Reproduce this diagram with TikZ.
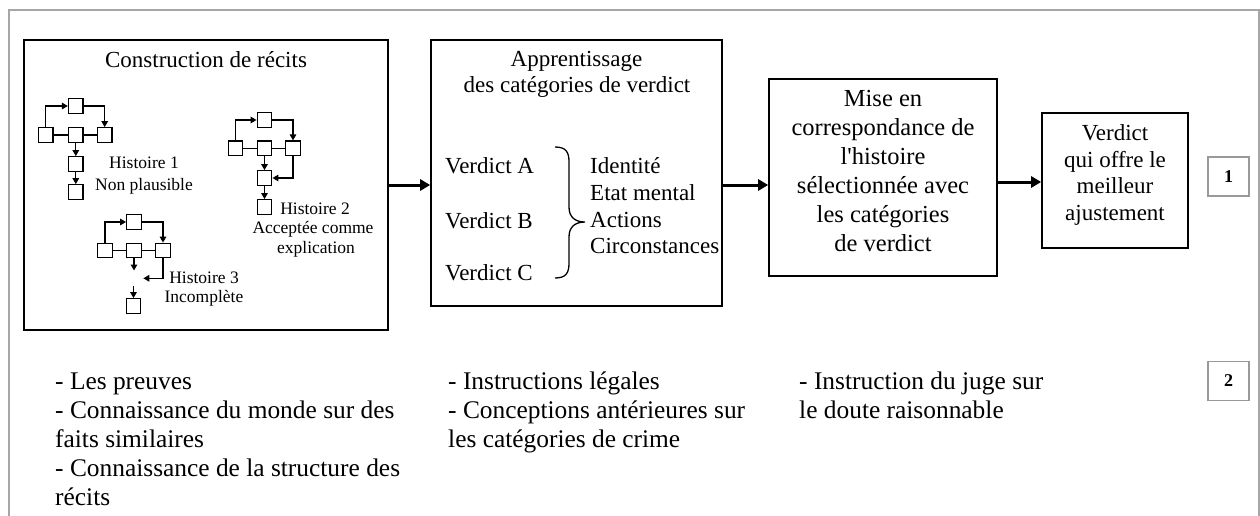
\documentclass[tikz,border=0pt]{standalone}
\usepackage{fontspec}
\setmainfont{Liberation Serif}[Ligatures=TeXOff]
\usetikzlibrary{arrows.meta}
\begin{document}
\begin{tikzpicture}[x=1pt,y=-1pt,
  box/.style={draw, line width=1.6pt, inner sep=0pt},
  mini/.style={draw, line width=1.3pt, minimum size=14.5pt, inner sep=0pt},
  conn/.style={line width=1.3pt, -{Triangle[length=6pt,width=6.5pt]}},
  link/.style={line width=1.3pt},
  big/.style={line width=3pt, -{Triangle[length=10pt,width=11pt]}},
  num/.style={draw=gray!80, line width=1.3pt, minimum width=41pt, minimum height=39pt, inner sep=0pt, font=\bfseries\fontsize{18}{20}\selectfont},
  tA/.style={anchor=base, inner sep=0pt, font=\fontsize{23}{26}\selectfont},
  tL/.style={anchor=base west, inner sep=0pt, font=\fontsize{23}{26}\selectfont},
  tC/.style={anchor=base, inner sep=0pt, font=\fontsize{24.5}{29}\selectfont},
  tS/.style={anchor=base, inner sep=0pt, font=\fontsize{17.5}{19.5}\selectfont},
  tB/.style={anchor=base west, inner sep=0pt, font=\fontsize{25.4}{29}\selectfont},
  frame/.style={draw=gray!70, line width=1.3pt}
]
\useasboundingbox (0,0) rectangle (1260,516);
\fill[white] (0,0) rectangle (1260,516);
% outer frame (open at bottom)
\draw[frame] (9,516) -- (9,10) -- (1259,10) -- (1259,516);

% main boxes
\node[box, minimum width=364pt, minimum height=290pt] (b1) at (206,185) {};
\node[box, minimum width=291pt, minimum height=266pt] (b2) at (576.5,173) {};
\node[box, minimum width=228pt, minimum height=197pt] (b3) at (883,177.5) {};
\node[box, minimum width=146pt, minimum height=135pt] (b4) at (1115,180.5) {};
\node[num] (n1) at (1228.5,176.5) {1};
\node[num] (n2) at (1228.5,381) {2};

% main arrows
\coordinate (a1) at (0,185);
\coordinate (a2) at (0,185);
\coordinate (a3) at (0,182);
\draw[big] (b1.east |- a1) -- (b2.west |- a1);
\draw[big] (b2.east |- a2) -- (b3.west |- a2);
\draw[big] (b3.east |- a3) -- (b4.west |- a3);

% box 1 title
\node[tA] (t1) at (206,68) {Construction de récits};

% story 1
\node[mini] (T1) at (75.8,106) {};
\node[mini] (L1) at (45.8,135) {};
\node[mini] (M1) at (75.8,135) {};
\node[mini] (R1) at (104.7,135) {};
\node[mini] (P1) at (75.8,164) {};
\node[mini] (Q1) at (75.8,192) {};
\draw[conn] (L1.north) |- (T1.west);
\draw[conn] (T1.east) -| (R1.north);
\draw[link] (L1.east) -- (M1.west) (M1.east) -- (R1.west);
\draw[conn] (M1.south) -- (P1.north);
\draw[conn] (P1.south) -- (Q1.north);
\node[tS] (h1a) at (144,168) {Histoire 1};
\node[tS] (h1b) at (144,190) {Non plausible};

% story 2
\node[mini] (T2) at (264.5,120) {};
\node[mini] (L2) at (235.5,148.3) {};
\node[mini] (M2) at (264.5,148.3) {};
\node[mini] (R2) at (293,148.3) {};
\node[mini] (P2) at (264.5,178) {};
\node[mini] (Q2) at (264.5,207) {};
\draw[conn] (L2.north) |- (T2.west);
\draw[conn] (T2.east) -| (R2.north);
\draw[link] (L2.east) -- (M2.west) (M2.east) -- (R2.west);
\draw[conn] (M2.south) -- (P2.north);
\draw[conn] (R2.south) |- (P2.east);
\draw[conn] (P2.south) -- (Q2.north);
\node[tS] (h2a) at (315,214) {Histoire 2};
\node[tS] (h2b) at (313,233.5) {Acceptée comme};
\node[tS] (h2c) at (316,253) {explication};

% story 3
\node[mini] (T3) at (134,222) {};
\node[mini] (L3) at (105,250.5) {};
\node[mini] (M3) at (134,250.5) {};
\node[mini] (R3) at (163,250.5) {};
\node[mini] (Q3) at (133.5,306) {};
\coordinate (e3a) at (134,270.5);
\coordinate (e3b) at (143.3,278.3);
\coordinate (e3c) at (133.5,285.5);
\draw[conn] (L3.north) |- (T3.west);
\draw[conn] (T3.east) -| (R3.north);
\draw[link] (L3.east) -- (M3.west) (M3.east) -- (R3.west);
\draw[conn] (M3.south) -- (e3a);
\draw[conn] (R3.south) |- (e3b);
\draw[conn] (e3c) -- (Q3.north);
\node[tS] (h3a) at (204,283) {Histoire 3};
\node[tS] (h3b) at (204,302) {Incomplète};

% box 2 content
\node[tA] (t2a) at (576.5,67) {Apprentissage};
\node[tA] (t2b) at (577,93) {des catégories de verdict};
\node[tL] (va) at (445,173) {Verdict A};
\node[tL] (vb) at (445,228) {Verdict B};
\node[tL] (vc) at (445,280) {Verdict C};
\draw[line width=1.3pt] (555,147) .. controls (566,147) and (569,152) .. (569,162)
  -- (569,207) .. controls (569,217) and (575,222) .. (585,222)
  .. controls (575,222) and (569,227) .. (569,237)
  -- (569,263) .. controls (569,273) and (566,278) .. (555,278);
\node[tL] (ca) at (590,173) {Identité};
\node[tL] (cb) at (590,200) {Etat mental};
\node[tL] (cc) at (590,227) {Actions};
\node[tL] (cd) at (590,253) {Circonstances};

% box 3 content
\node[tC] (m1) at (883,106.5) {Mise en};
\node[tC] (m2) at (883,135.5) {correspondance de};
\node[tC] (m3) at (883,164.5) {l'histoire};
\node[tC] (m4) at (883,193.5) {sélectionnée avec};
\node[tC] (m5) at (883,222.5) {les catégories};
\node[tC] (m6) at (883,251.5) {de verdict};

% box 4 content
\node[tA] (r1) at (1115,140) {Verdict};
\node[tA] (r2) at (1115,167) {qui offre le};
\node[tA] (r3) at (1115,193.5) {meilleur};
\node[tA] (r4) at (1115,220) {ajustement};

% bottom lists
\node[tB] (x1) at (55,389) {- Les preuves};
\node[tB] (x2) at (55,418) {- Connaissance du monde sur des};
\node[tB] (x3) at (55,447) {faits similaires};
\node[tB] (x4) at (55,476) {- Connaissance de la structure des};
\node[tB] (x5) at (55,505) {récits};
\node[tB] (y1) at (448,389) {- Instructions légales};
\node[tB] (y2) at (448,418) {- Conceptions antérieures sur};
\node[tB] (y3) at (448,447) {les catégories de crime};
\node[tB] (z1) at (799,389) {- Instruction du juge sur};
\node[tB] (z2) at (799,418) {le doute raisonnable};
\end{tikzpicture}
\end{document}
